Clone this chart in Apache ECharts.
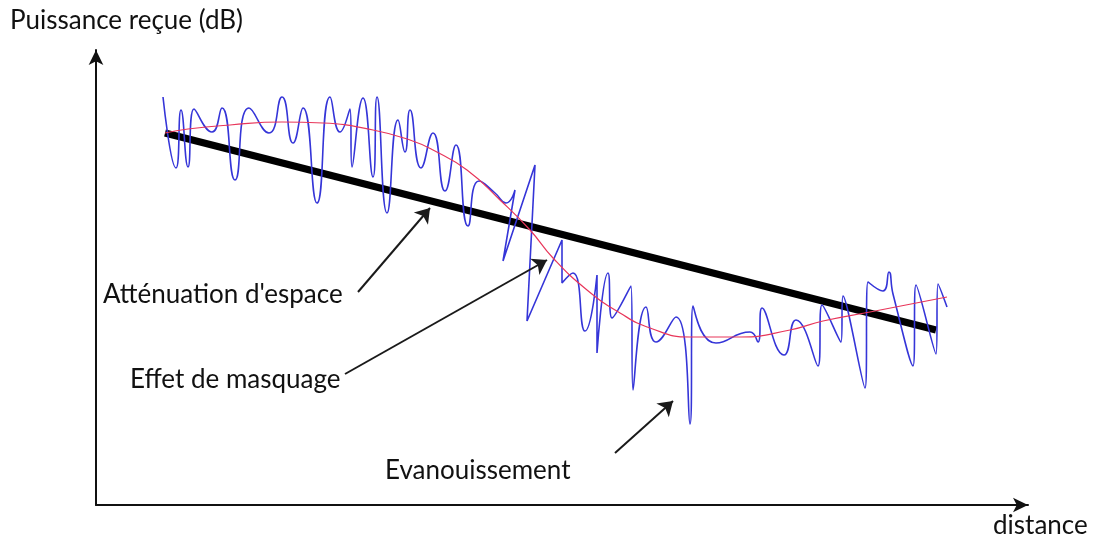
<!DOCTYPE html>
<html>
<head>
<meta charset="utf-8">
<script src="https://cdn.jsdelivr.net/npm/echarts@6/dist/echarts.min.js"></script>
<style>
html,body{margin:0;padding:0;background:#fff;}
#chart{width:1093px;height:539px;}
</style>
</head>
<body>
<div id="chart"></div>
<script>
// --- data (distance, puissance) ---
var signal = [
	[67,408],[80,337],[85,395],[92,338],[98,396],[116,373],[126,397],[139,325],[153,397],[173,372],
	[186,408],[197,362],[207,397],[221,302],[234,408],[244,373],[254,396],[256,338],[267,407],[277,328],
	[281,408],[291,292],[302,385],[309,353],[314,395],[325,337],[337,372],[349,314],[360,360],[372,279],
	[383,324],[399,312],[410,302],[419,315],[407,244],[439,340],[431,184],[466,265],[466,222],[477,232],
	[489,174],[501,230],[501,152],[512,232],[516,187],[535,219],[537,115],[550,198],[560,163],[580,188],
	[594,81],[597,199],[620,162],[654,173],[662,163],[666,197],[688,150],[700,185],[722,139],[726,200],
	[745,163],[747,209],[769,117],[772,223],[787,214],[793,233],[797,211],[817,139],[820,220],[840,151],
	[842,221],[851,198]
];
var masquage = [
	[69,372],[92,376],[134,380],[186,383],[227,382],[277,375],[314,365],[337,355],[371,335],[404,305],
	[434,275],[457,247],[491,215],[524,192],[554,177],[594,168],[644,168],[694,175],[727,184],[774,193],[851,208]
];
var attenuation = [[69,372],[840,175]];
// arrows: [from, to]
var arrows = [
	[[262,213],[334,297]],
	[[249,131],[451,245]],
	[[519,52],[577,104]]
];
var labels = ['Atténuation d\'espace', 'Effet de masquage', 'Evanouissement'];
var xName = 'distance';
var yName = 'Puissance reçue (dB)';

var font = 'Lato, "Noto Sans", sans-serif';

var myChart = echarts.init(document.getElementById('chart'));
option = {
	animation: false,
	grid: {left: 96, top: 50, right: 65, bottom: 34},
	xAxis: {
		type: 'value', min: 0, max: 932,
		splitLine: {show: false}, axisTick: {show: false}, axisLabel: {show: false},
		axisLine: {lineStyle: {color: '#111', width: 2}, symbol: ['none', 'arrow'], symbolSize: [11, 15]}
	},
	yAxis: {
		type: 'value', min: 0, max: 455,
		splitLine: {show: false}, axisTick: {show: false}, axisLabel: {show: false},
		axisLine: {lineStyle: {color: '#111', width: 2}, symbol: ['none', 'arrow'], symbolSize: [11, 15]}
	},
	graphic: [
		{type: 'text', left: 10, top: 8, style: {text: yName, font: '26px ' + font, fill: '#111'}},
		{type: 'text', left: 993, top: 513, style: {text: xName, font: '26px ' + font, fill: '#111'}},
		{type: 'text', left: 103, top: 282, style: {text: labels[0], font: '26px ' + font, fill: '#111'}},
		{type: 'text', left: 130, top: 367, style: {text: labels[1], font: '26px ' + font, fill: '#111'}},
		{type: 'text', left: 385, top: 458, style: {text: labels[2], font: '26px ' + font, fill: '#111'}}
	],
	series: [
		{
			name: 'attenuation',
			type: 'line',
			data: attenuation,
			showSymbol: false,
			lineStyle: {color: '#000', width: 7},
			silent: true,
			markLine: {
				silent: true,
				symbol: ['none', 'arrow'],
				symbolSize: 14,
				lineStyle: {color: '#1a1a1a', width: 2, type: 'solid'},
				label: {show: false},
				data: arrows.map(function(a){
					return [{coord: a[0]}, {coord: a[1]}];
				})
			}
		},
		{
			name: 'signal',
			type: 'line',
			data: signal,
			smooth: 0.55,
			showSymbol: false,
			lineStyle: {color: '#3535d8', width: 1.6}
		},
		{
			name: 'masquage',
			type: 'line',
			data: masquage,
			smooth: true,
			showSymbol: false,
			lineStyle: {color: '#e8365a', width: 1.2}
		}
	]
};
myChart.setOption(option);
</script>
</body>
</html>
